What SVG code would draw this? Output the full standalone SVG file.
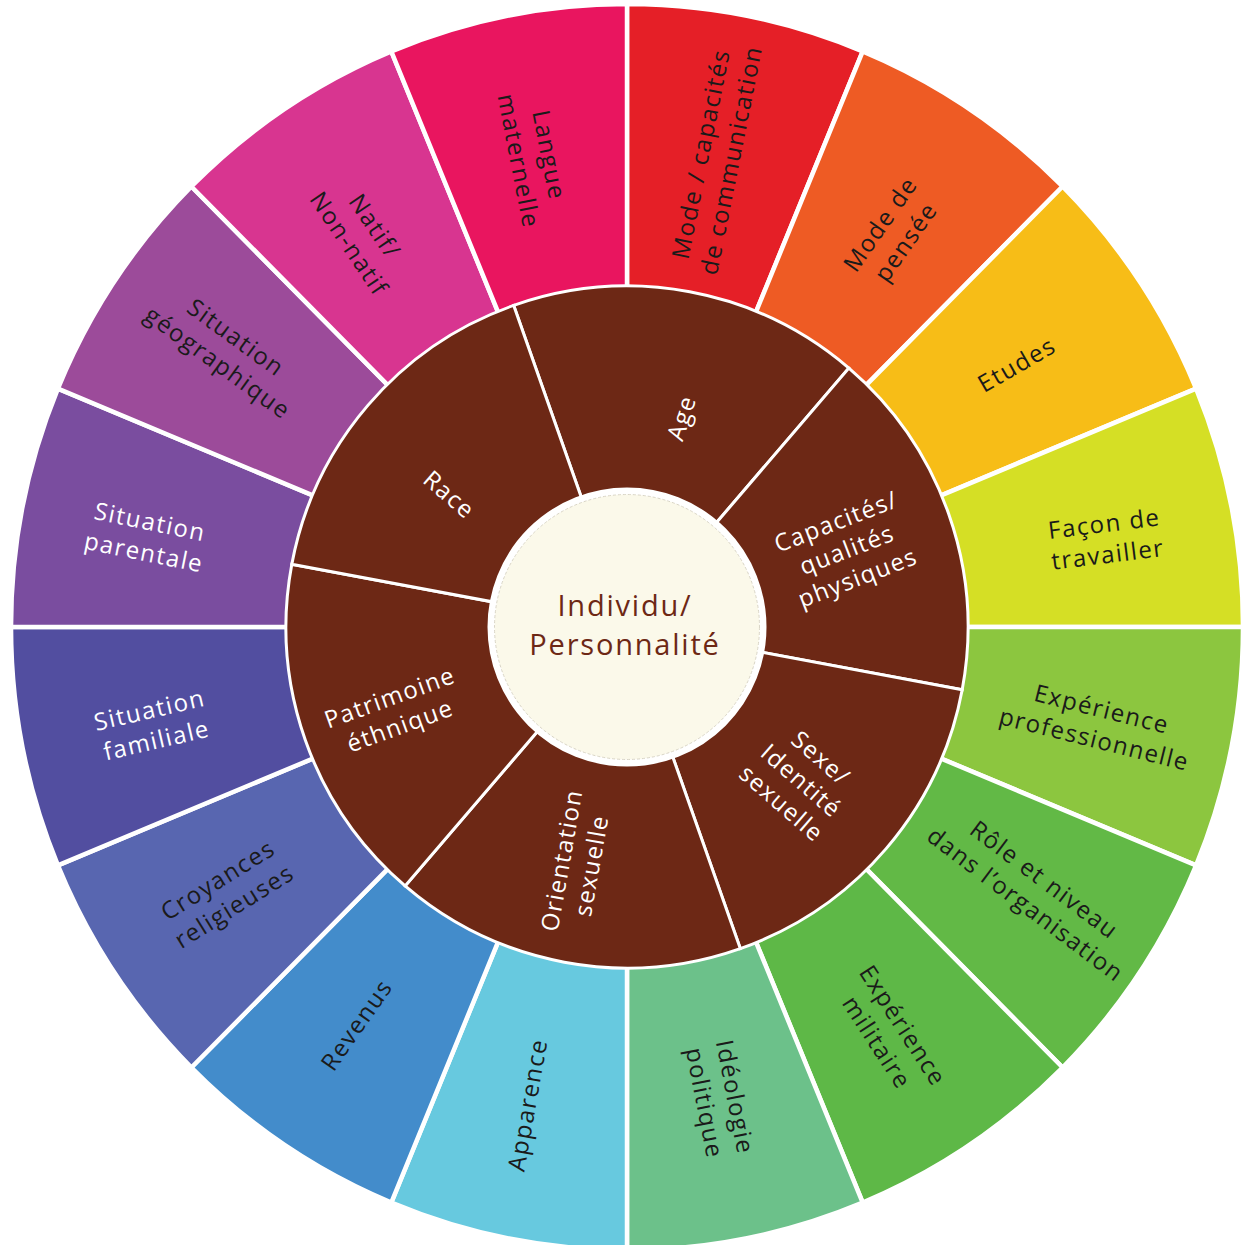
<svg xmlns="http://www.w3.org/2000/svg" width="1243" height="1245" viewBox="0 0 1243 1245">
<style>
.seg{stroke:#fff;stroke-width:4.5;stroke-linejoin:round}
.in{fill:#6d2815;stroke:#fff;stroke-width:3}
.lbl{font-family:"Open Sans","Noto Sans",sans-serif;font-size:24px;letter-spacing:1.5px;fill:#1a1a1a;text-anchor:middle}
.wl{fill:#ffffff}
.il{font-family:"Open Sans","Noto Sans",sans-serif;font-size:24px;letter-spacing:1.4px;fill:#ffffff;text-anchor:middle}
.ct{font-family:"Open Sans","Noto Sans",sans-serif;font-size:29px;letter-spacing:1.8px;fill:#6d2815;text-anchor:middle}
</style>
<rect width="1243" height="1245" fill="#ffffff"/>
<g id="outer-ring">
<g id="n-communication"><path class="seg" fill="#e51f27" d="M627,627 L627,4 A616,623 0 0 1 862.7,51.4 Z"/><text class="lbl" transform="translate(716,157) rotate(-78.75)"><tspan x="0" y="-7">Mode / capacités</tspan><tspan x="0" y="24">de communication</tspan></text></g>
<g id="n-pensee"><path class="seg" fill="#ee5b24" d="M627,627 L862.7,51.4 A616,623 0 0 1 1062.6,186.5 Z"/><text class="lbl" transform="translate(893,233) rotate(-55)"><tspan x="0" y="-7">Mode de</tspan><tspan x="0" y="24">pensée</tspan></text></g>
<g id="n-etudes"><path class="seg" fill="#f7bd17" d="M627,627 L1062.6,186.5 A616,623 0 0 1 1196.1,388.6 Z"/><text class="lbl" transform="translate(1017,365) rotate(-30)"><tspan x="0" y="8">Etudes</tspan></text></g>
<g id="n-travailler"><path class="seg" fill="#d5df25" d="M627,627 L1196.1,388.6 A616,623 0 0 1 1243,627 Z"/><text class="lbl" transform="translate(1106,539) rotate(-7)"><tspan x="0" y="-7">Façon de</tspan><tspan x="0" y="24">travailler</tspan></text></g>
<g id="n-exppro"><path class="seg" fill="#8cc63f" d="M627,627 L1243,627 A616,623 0 0 1 1196.1,865.4 Z"/><text class="lbl" transform="translate(1098,724) rotate(14)"><tspan x="0" y="-7">Expérience</tspan><tspan x="0" y="24">professionnelle</tspan></text></g>
<g id="n-role"><path class="seg" fill="#62b946" d="M627,627 L1196.1,865.4 A616,623 0 0 1 1062.6,1067.5 Z"/><text class="lbl" transform="translate(1035,892) rotate(37)"><tspan x="0" y="-7">Rôle et niveau</tspan><tspan x="0" y="24">dans l’organisation</tspan></text></g>
<g id="n-militaire"><path class="seg" fill="#5eb847" d="M627,627 L1062.6,1067.5 A616,623 0 0 1 862.7,1202.6 Z"/><text class="lbl" transform="translate(890,1034) rotate(57)"><tspan x="0" y="-7">Expérience</tspan><tspan x="0" y="24">militaire</tspan></text></g>
<g id="n-ideologie"><path class="seg" fill="#6cc18a" d="M627,627 L862.7,1202.6 A616,623 0 0 1 627,1250 Z"/><text class="lbl" transform="translate(720,1100) rotate(79)"><tspan x="0" y="-7">Idéologie</tspan><tspan x="0" y="24">politique</tspan></text></g>
<g id="n-apparence"><path class="seg" fill="#67c9df" d="M627,627 L627,1250 A616,623 0 0 1 391.3,1202.6 Z"/><text class="lbl" transform="translate(528,1105) rotate(-80)"><tspan x="0" y="8">Apparence</tspan></text></g>
<g id="n-revenus"><path class="seg" fill="#438ccb" d="M627,627 L391.3,1202.6 A616,623 0 0 1 191.4,1067.5 Z"/><text class="lbl" transform="translate(357,1025) rotate(-55)"><tspan x="0" y="8">Revenus</tspan></text></g>
<g id="n-croyances"><path class="seg" fill="#5866b0" d="M627,627 L191.4,1067.5 A616,623 0 0 1 57.9,865.4 Z"/><text class="lbl" transform="translate(226,893) rotate(-32)"><tspan x="0" y="-7">Croyances</tspan><tspan x="0" y="24">religieuses</tspan></text></g>
<g id="n-familiale"><path class="seg" fill="#524ea0" d="M627,627 L57.9,865.4 A616,623 0 0 1 11,627 Z"/><text class="lbl wl" transform="translate(153,725) rotate(-13)"><tspan x="0" y="-7">Situation</tspan><tspan x="0" y="24">familiale</tspan></text></g>
<g id="n-parentale"><path class="seg" fill="#7a4d9f" d="M627,627 L11,627 A616,623 0 0 1 57.9,388.6 Z"/><text class="lbl wl" transform="translate(147,537) rotate(11.5)"><tspan x="0" y="-7">Situation</tspan><tspan x="0" y="24">parentale</tspan></text></g>
<g id="n-geographique"><path class="seg" fill="#9c4b9a" d="M627,627 L57.9,388.6 A616,623 0 0 1 191.4,186.5 Z"/><text class="lbl" transform="translate(227,350) rotate(36)"><tspan x="0" y="-7">Situation</tspan><tspan x="0" y="24">géographique</tspan></text></g>
<g id="n-natif"><path class="seg" fill="#d83590" d="M627,627 L191.4,186.5 A616,623 0 0 1 391.3,51.4 Z"/><text class="lbl" transform="translate(362,235) rotate(56)"><tspan x="0" y="-7">Natif/</tspan><tspan x="0" y="24">Non-natif</tspan></text></g>
<g id="n-langue"><path class="seg" fill="#e9155f" d="M627,627 L391.3,51.4 A616,623 0 0 1 627,4 Z"/><text class="lbl" transform="translate(534,158) rotate(79)"><tspan x="0" y="-7">Langue</tspan><tspan x="0" y="24">maternelle</tspan></text></g>
</g>
<g id="inner-ring">
<g id="n-age"><path class="in" d="M627,627 L513.7,305.4 A341,341 0 0 1 848.9,368.1 Z"/><text class="il" transform="translate(682,418) rotate(-72)"><tspan x="0" y="8">Age</tspan></text></g>
<g id="n-capacites"><path class="in" d="M627,627 L848.9,368.1 A341,341 0 0 1 962.2,689.7 Z"/><text class="il" transform="translate(847,550) rotate(-21)"><tspan x="0" y="-22">Capacités/</tspan><tspan x="0" y="8">qualités</tspan><tspan x="0" y="38">physiques</tspan></text></g>
<g id="n-sexe"><path class="in" d="M627,627 L962.2,689.7 A341,341 0 0 1 740.3,948.6 Z"/><text class="il" transform="translate(801,781) rotate(41)"><tspan x="0" y="-22">Sexe/</tspan><tspan x="0" y="8">Identité</tspan><tspan x="0" y="38">sexuelle</tspan></text></g>
<g id="n-orientation"><path class="in" d="M627,627 L740.3,948.6 A341,341 0 0 1 405.1,885.9 Z"/><text class="il" transform="translate(577,863) rotate(-80)"><tspan x="0" y="-7">Orientation</tspan><tspan x="0" y="23">sexuelle</tspan></text></g>
<g id="n-patrimoine"><path class="in" d="M627,627 L405.1,885.9 A341,341 0 0 1 291.8,564.3 Z"/><text class="il" transform="translate(395,712) rotate(-20)"><tspan x="0" y="-7">Patrimoine</tspan><tspan x="0" y="23">éthnique</tspan></text></g>
<g id="n-race"><path class="in" d="M627,627 L291.8,564.3 A341,341 0 0 1 513.7,305.4 Z"/><text class="il" transform="translate(449,495) rotate(41)"><tspan x="0" y="8">Race</tspan></text></g>
</g>
<g id="n-individu">
<circle cx="627" cy="627" r="136" fill="#fbf9ea" stroke="#ffffff" stroke-width="7"/>
<circle cx="627" cy="627" r="132.5" fill="none" stroke="#d9d5c6" stroke-width="1" stroke-dasharray="3 2"/>
<text class="ct"><tspan x="625" y="616">Individu/</tspan><tspan x="625" y="655">Personnalité</tspan></text>
</g>
<g id="connectors"></g>
</svg>
